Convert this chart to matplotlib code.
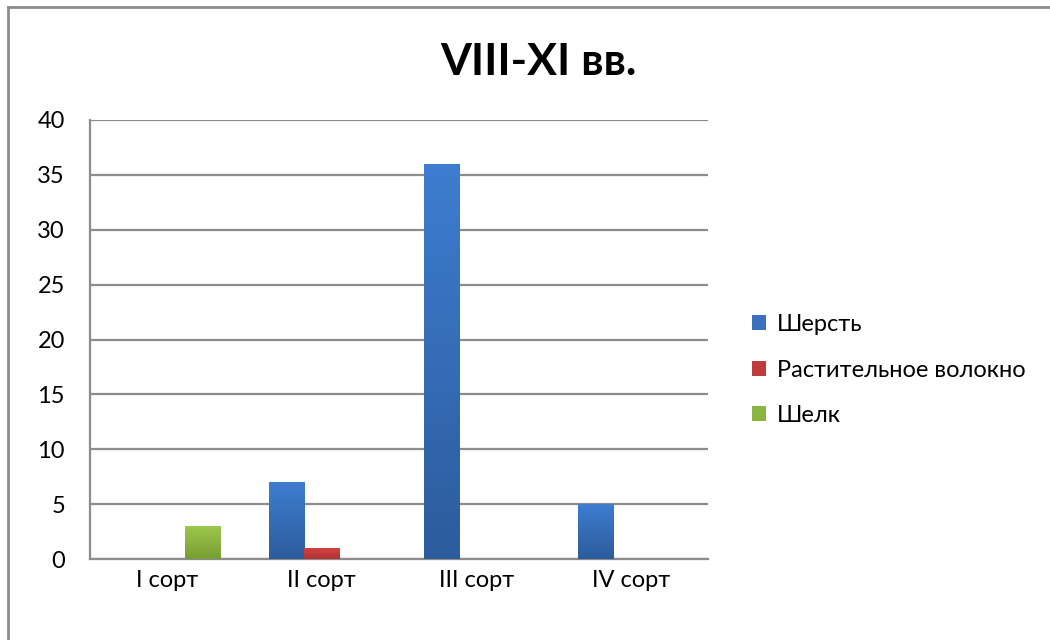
import matplotlib
matplotlib.use("Agg")
import matplotlib.pyplot as plt
import numpy as np
from matplotlib.patches import Patch
from matplotlib.colors import LinearSegmentedColormap
from matplotlib.lines import Line2D

categories = ["I сорт", "II сорт", "III сорт", "IV сорт"]
series_names = ["Шерсть", "Растительное волокно", "Шелк"]
wool = [0, 7, 36, 5]
plant = [0, 1, 0, 0]
silk = [3, 0, 0, 0]
values = [wool, plant, silk]
title = "VIII-XI вв."
yticks = [0, 5, 10, 15, 20, 25, 30, 35, 40]

top_colors = ["#3E7DD0", "#D24343", "#9CC84B"]
bot_colors = ["#2C5C9C", "#AE3231", "#779D33"]
mid_colors = ["#3A70BD", "#C03B3B", "#8BB541"]

plt.rcParams['font.family'] = ['Lato', 'DejaVu Sans']

fig = plt.figure(figsize=(10.5, 6.4), dpi=100)
ax = fig.add_axes([90/1050, 1-559/640, (708-90)/1050, (559-120)/640])

# outer frame (top and left edges)
fig.add_artist(Line2D([8/1050, 8/1050], [0, 1-7/640], transform=fig.transFigure, color="#8C8C8C", lw=2))
fig.add_artist(Line2D([8/1050, 1.0], [1-7/640, 1-7/640], transform=fig.transFigure, color="#8C8C8C", lw=2))

n = len(series_names)
w = 0.227
x = np.arange(len(categories))
for i, (vals, tc, bc) in enumerate(zip(values, top_colors, bot_colors)):
    offs = (i - (n - 1) / 2) * w
    cmap = LinearSegmentedColormap.from_list("g%d" % i, [bc, tc])
    bars = ax.bar(x + offs, vals, width=w, color="none", edgecolor="none", zorder=3)
    for b, v in zip(bars, vals):
        if v <= 0:
            continue
        x0 = b.get_x()
        grad = np.linspace(0, 1, 256).reshape(-1, 1)
        im = ax.imshow(grad, cmap=cmap, origin="lower", aspect="auto",
                       extent=[x0, x0 + w, 0, v], zorder=3, interpolation="bicubic")
        im.set_clip_path(b)

ax.set_xlim(-0.5, len(categories) - 0.5)
ax.set_ylim(0, 40)
ax.set_yticks(yticks)
ax.set_xticks(x)
ax.set_xticklabels(categories)
ax.yaxis.grid(True, color="#8C8C8C", lw=1.6, zorder=0)
ax.set_axisbelow(True)
for s in ["top", "right"]:
    ax.spines[s].set_visible(False)
for s in ["left", "bottom"]:
    ax.spines[s].set_color("#8C8C8C")
    ax.spines[s].set_linewidth(1.6)
ax.tick_params(axis="both", length=0, labelsize=17, colors="#000000")
ax.tick_params(axis="y", pad=18)
ax.tick_params(axis="x", pad=8)

fig.text(538/1050, 1-62/640, title, ha="center", va="center", fontsize=32, fontweight="bold")

handles = [Patch(facecolor=c, edgecolor="none") for c in mid_colors]
fig.legend(handles, series_names, loc="center left", bbox_to_anchor=(731/1050, 1-370/640),
           frameon=False, fontsize=17, handlelength=0.6, handleheight=0.6,
           handletextpad=0.45, labelspacing=1.05)

fig.savefig("out.png", dpi=100)
